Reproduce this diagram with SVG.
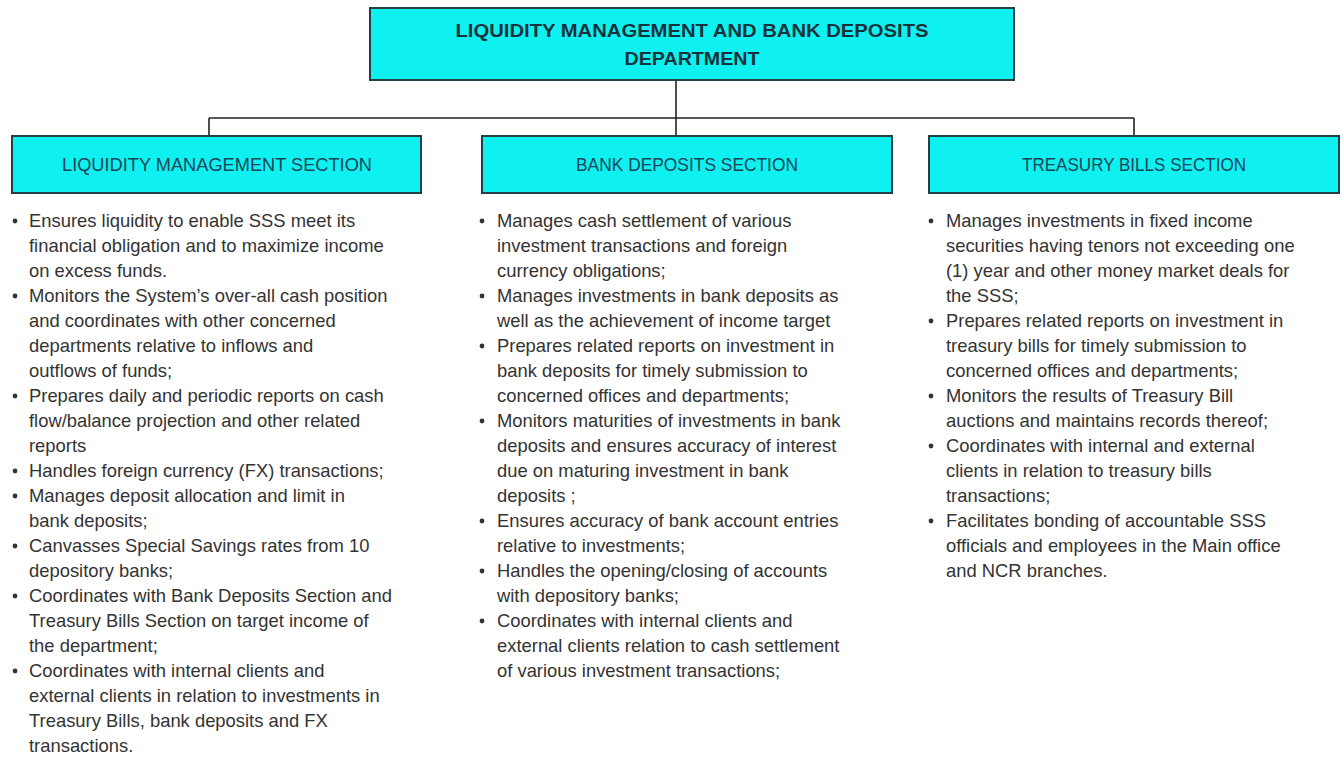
<svg xmlns="http://www.w3.org/2000/svg" width="1343" height="760" viewBox="0 0 1343 760">
<style>
.box{fill:#0ff0f0;stroke:#243f45;stroke-width:2}
.title{font-family:"Liberation Sans",Arial,sans-serif;font-weight:bold;font-size:19px;fill:#17323c;text-anchor:middle}
.head{font-family:"Liberation Sans",Arial,sans-serif;font-size:18px;fill:#1b4556;text-anchor:middle}
.body{font-family:"Liberation Sans",Arial,sans-serif;font-size:18.4px;fill:#333333}
.dot{fill:#333333}
.conn{stroke:#222222;stroke-width:1.6;fill:none}
</style>
<rect width="1343" height="760" fill="#ffffff"/>
<g id="connectors">
<path class="conn" d="M676 80 V118 M209 118 H1134 M209 118 V136 M676 118 V136 M1134 118 V136"/>
</g>
<g id="dept">
<rect class="box" x="370" y="8" width="644" height="72"/>
<text class="title" x="692" y="37" textLength="473" lengthAdjust="spacingAndGlyphs">LIQUIDITY MANAGEMENT AND BANK DEPOSITS</text>
<text class="title" x="692" y="65" textLength="135" lengthAdjust="spacingAndGlyphs">DEPARTMENT</text>
</g>
<g id="liquidity-section">
<rect class="box" x="12" y="136" width="409" height="57"/>
<text class="head" x="217" y="171" textLength="310" lengthAdjust="spacingAndGlyphs">LIQUIDITY MANAGEMENT SECTION</text>
</g>
<g id="bank-deposits-section">
<rect class="box" x="482" y="136" width="410" height="57"/>
<text class="head" x="687" y="171" textLength="222" lengthAdjust="spacingAndGlyphs">BANK DEPOSITS SECTION</text>
</g>
<g id="treasury-bills-section">
<rect class="box" x="929" y="136" width="410" height="57"/>
<text class="head" x="1134" y="171" textLength="224" lengthAdjust="spacingAndGlyphs">TREASURY BILLS SECTION</text>
</g>
<g id="liquidity-duties">
<circle class="dot" cx="15" cy="221" r="2.4"/>
<circle class="dot" cx="15" cy="296" r="2.4"/>
<circle class="dot" cx="15" cy="396" r="2.4"/>
<circle class="dot" cx="15" cy="471" r="2.4"/>
<circle class="dot" cx="15" cy="496" r="2.4"/>
<circle class="dot" cx="15" cy="546" r="2.4"/>
<circle class="dot" cx="15" cy="596" r="2.4"/>
<circle class="dot" cx="15" cy="671" r="2.4"/>
<text class="body">
<tspan x="29" y="227">Ensures liquidity to enable SSS meet its</tspan>
<tspan x="29" y="252">financial obligation and to maximize income</tspan>
<tspan x="29" y="277">on excess funds.</tspan>
<tspan x="29" y="302">Monitors the System’s over-all cash position</tspan>
<tspan x="29" y="327">and coordinates with other concerned</tspan>
<tspan x="29" y="352">departments relative to inflows and</tspan>
<tspan x="29" y="377">outflows of funds;</tspan>
<tspan x="29" y="402">Prepares daily and periodic reports on cash</tspan>
<tspan x="29" y="427">flow/balance projection and other related</tspan>
<tspan x="29" y="452">reports</tspan>
<tspan x="29" y="477">Handles foreign currency (FX) transactions;</tspan>
<tspan x="29" y="502">Manages deposit allocation and limit in</tspan>
<tspan x="29" y="527">bank deposits;</tspan>
<tspan x="29" y="552">Canvasses Special Savings rates from 10</tspan>
<tspan x="29" y="577">depository banks;</tspan>
<tspan x="29" y="602">Coordinates with Bank Deposits Section and</tspan>
<tspan x="29" y="627">Treasury Bills Section on target income of</tspan>
<tspan x="29" y="652">the department;</tspan>
<tspan x="29" y="677">Coordinates with internal clients and</tspan>
<tspan x="29" y="702">external clients in relation to investments in</tspan>
<tspan x="29" y="727">Treasury Bills, bank deposits and FX</tspan>
<tspan x="29" y="752">transactions.</tspan>
</text>
</g>
<g id="bank-deposits-duties">
<circle class="dot" cx="482" cy="221" r="2.4"/>
<circle class="dot" cx="482" cy="296" r="2.4"/>
<circle class="dot" cx="482" cy="346" r="2.4"/>
<circle class="dot" cx="482" cy="421" r="2.4"/>
<circle class="dot" cx="482" cy="521" r="2.4"/>
<circle class="dot" cx="482" cy="571" r="2.4"/>
<circle class="dot" cx="482" cy="621" r="2.4"/>
<text class="body">
<tspan x="497" y="227">Manages cash settlement of various</tspan>
<tspan x="497" y="252">investment transactions and foreign</tspan>
<tspan x="497" y="277">currency obligations;</tspan>
<tspan x="497" y="302">Manages investments in bank deposits as</tspan>
<tspan x="497" y="327">well as the achievement of income target</tspan>
<tspan x="497" y="352">Prepares related reports on investment in</tspan>
<tspan x="497" y="377">bank deposits for timely submission to</tspan>
<tspan x="497" y="402">concerned offices and departments;</tspan>
<tspan x="497" y="427">Monitors maturities of investments in bank</tspan>
<tspan x="497" y="452">deposits and ensures accuracy of interest</tspan>
<tspan x="497" y="477">due on maturing investment in bank</tspan>
<tspan x="497" y="502">deposits ;</tspan>
<tspan x="497" y="527">Ensures accuracy of bank account entries</tspan>
<tspan x="497" y="552">relative to investments;</tspan>
<tspan x="497" y="577">Handles the opening/closing of accounts</tspan>
<tspan x="497" y="602">with depository banks;</tspan>
<tspan x="497" y="627">Coordinates with internal clients and</tspan>
<tspan x="497" y="652">external clients relation to cash settlement</tspan>
<tspan x="497" y="677">of various investment transactions;</tspan>
</text>
</g>
<g id="treasury-bills-duties">
<circle class="dot" cx="931" cy="221" r="2.4"/>
<circle class="dot" cx="931" cy="321" r="2.4"/>
<circle class="dot" cx="931" cy="396" r="2.4"/>
<circle class="dot" cx="931" cy="446" r="2.4"/>
<circle class="dot" cx="931" cy="521" r="2.4"/>
<text class="body">
<tspan x="946" y="227">Manages investments in fixed income</tspan>
<tspan x="946" y="252">securities having tenors not exceeding one</tspan>
<tspan x="946" y="277">(1) year and other money market deals for</tspan>
<tspan x="946" y="302">the SSS;</tspan>
<tspan x="946" y="327">Prepares related reports on investment in</tspan>
<tspan x="946" y="352">treasury bills for timely submission to</tspan>
<tspan x="946" y="377">concerned offices and departments;</tspan>
<tspan x="946" y="402">Monitors the results of Treasury Bill</tspan>
<tspan x="946" y="427">auctions and maintains records thereof;</tspan>
<tspan x="946" y="452">Coordinates with internal and external</tspan>
<tspan x="946" y="477">clients in relation to treasury bills</tspan>
<tspan x="946" y="502">transactions;</tspan>
<tspan x="946" y="527">Facilitates bonding of accountable SSS</tspan>
<tspan x="946" y="552">officials and employees in the Main office</tspan>
<tspan x="946" y="577">and NCR branches.</tspan>
</text>
</g>
</svg>
